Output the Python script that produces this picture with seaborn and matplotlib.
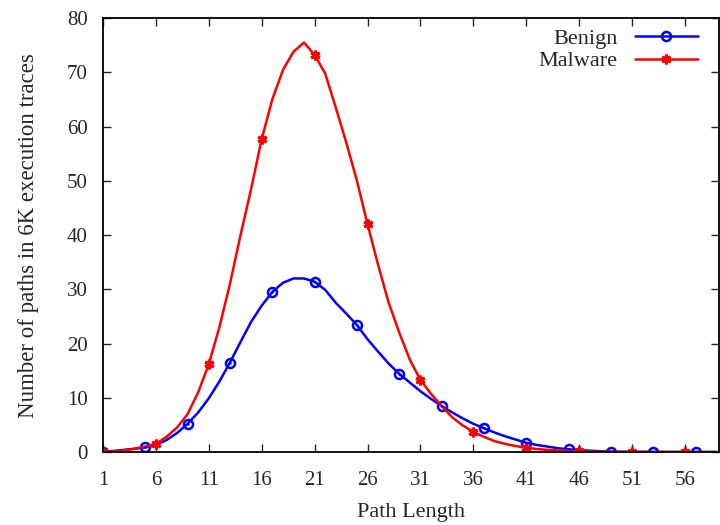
import numpy as np
import pandas as pd
import matplotlib
matplotlib.use("Agg")
import matplotlib.pyplot as plt
import seaborn as sns

path_length = list(range(1, 60))
benign = [0.0, 0.2, 0.4, 0.6, 0.85, 1.3, 2.2, 3.5, 5.2, 7.3,
          9.9, 13.0, 16.5, 20.3, 24.0, 27.0, 29.5, 31.2, 32.0, 32.0,
          31.4, 29.9, 27.5, 25.5, 23.4, 20.8, 18.5, 16.3, 14.4, 12.8,
          11.2, 9.8, 8.5, 7.3, 6.2, 5.2, 4.4, 3.6, 2.9, 2.3,
          1.7, 1.3, 1.0, 0.7, 0.5, 0.35, 0.25, 0.15, 0.08, 0.05,
          0.04, 0.03, 0.02, 0.02, 0.01, 0.01, 0.01, 0.0, 0.0]
malware = [0.0, 0.1, 0.3, 0.6, 1.0, 1.5, 2.8, 4.5, 7.0, 11.0,
           16.2, 23.0, 31.0, 40.0, 48.5, 57.7, 65.0, 70.4, 73.8, 75.5,
           73.2, 69.8, 63.5, 57.0, 50.0, 42.0, 34.5, 27.5, 22.0, 17.0,
           13.3, 10.7, 8.5, 6.4, 4.9, 3.7, 2.8, 2.0, 1.5, 1.1,
           0.8, 0.55, 0.4, 0.3, 0.2, 0.1, 0.07, 0.05, 0.03, 0.02,
           0.01, 0.01, 0.0, 0.0, 0.0, 0.0, 0.0, 0.0, 0.0]
x_ticks = [1, 6, 11, 16, 21, 26, 31, 36, 41, 46, 51, 56]
y_ticks = [0, 10, 20, 30, 40, 50, 60, 70, 80]

sns.set_style("ticks")
plt.rcParams['font.family'] = ['Liberation Serif', 'DejaVu Serif']
plt.rcParams['mathtext.fontset'] = 'stix'

df = pd.DataFrame({"x": path_length, "Benign": benign, "Malware": malware})
df_b_marks = df.iloc[::4]

fig = plt.figure(figsize=(7.2, 5.25), dpi=100)
ax = fig.add_axes([0.143, 0.139, 0.8555, 0.8265])

sns.lineplot(data=df, x="x", y="Benign", ax=ax, color="#0000ff", lw=1.8,
             marker="o", markersize=6.5, markerfacecolor="none",
             markeredgecolor="#0000ff", markeredgewidth=1.8, markevery=4,
             label="Benign")
sns.scatterplot(data=df_b_marks, x="x", y="Benign", ax=ax, color="#0000ff",
                s=3, linewidth=0, legend=False, zorder=5)
sns.lineplot(data=df, x="x", y="Malware", ax=ax, color="#ff0000", lw=1.8,
             marker=(6, 2, 0), markersize=7, markeredgecolor="#ff0000",
             markeredgewidth=2.2, markevery=5, label="Malware")

ax.set_xlim(1, 59.2)
ax.set_ylim(0, 80)
ax.set_xticks(x_ticks)
ax.set_yticks(y_ticks)
ax.tick_params(axis="both", direction="in", top=True, right=True, length=6,
               width=1, labelsize=15)
ax.tick_params(axis="y", pad=11)
ax.tick_params(axis="x", pad=14)
for s in ax.spines.values():
    s.set_linewidth(1.3)
    s.set_color("black")
ax.set_xlabel("Path Length", fontsize=16, labelpad=9)
ax.set_ylabel("Number of paths in 6K execution traces", fontsize=16.5,
              labelpad=20)

leg = ax.legend(loc="upper right", bbox_to_anchor=(0.987, 1.008),
                frameon=False, markerfirst=False, numpoints=1,
                fontsize=16, handlelength=2.8, borderaxespad=0.2,
                labelspacing=0.1, handletextpad=0.8)
for t in leg.get_texts():
    t.set_ha("right")

fig.savefig("out.png", dpi=100)
